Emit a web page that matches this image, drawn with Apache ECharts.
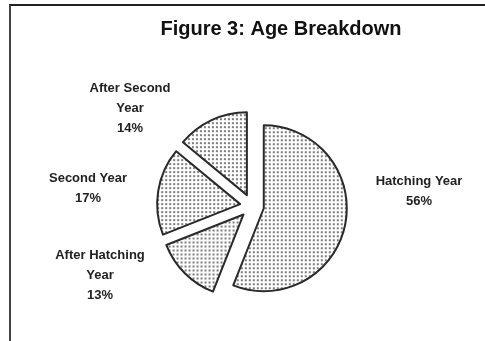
<!DOCTYPE html>
<html>
<head>
<meta charset="utf-8">
<script src="https://cdn.jsdelivr.net/npm/echarts@6/dist/echarts.min.js"></script>
<style>
  html, body { margin: 0; padding: 0; background: #fff; }
  #wrap { position: relative; width: 485px; height: 341px; overflow: hidden; }
  #chart { position: absolute; left: 0; top: 0; width: 485px; height: 341px; }
  #frame { position: absolute; left: 9px; top: 4px; width: 600px; height: 600px;
           border-top: 2px solid #222; border-left: 2px solid #444; pointer-events: none; }
</style>
</head>
<body>
<div id="wrap">
  <div id="chart"></div>
  <div id="frame"></div>
</div>
<script>
// Data
const categories = ['Hatching Year', 'After Hatching\nYear', 'Second Year', 'After Second\nYear'];
const values = [56, 13, 17, 14];
const percentLabels = ['56%', '13%', '17%', '14%'];
const titleText = 'Figure 3: Age Breakdown';

// Label placement (center of each label block)
const labelPos = [[419, 191], [100, 275], [88, 188], [130, 108]];

// Dotted pattern fill
function makePattern() {
  const c = document.createElement('canvas');
  c.width = 4; c.height = 4;
  const ctx = c.getContext('2d');
  ctx.fillStyle = '#ffffff';
  ctx.fillRect(0, 0, 4, 4);
  ctx.fillStyle = '#7e7e7e';
  ctx.fillRect(1, 1, 2, 2);
  return c;
}
const pattern = { image: makePattern(), repeat: 'repeat' };
const pieData = categories.map((name, i) => ({ name: name, value: values[i] }));

const chart = echarts.init(document.getElementById('chart'), null, { renderer: 'canvas' });
chart.setOption({
  backgroundColor: '#ffffff',
  animation: false,
  title: {
    text: titleText,
    left: 276,
    top: 14,
    textAlign: 'center',
    textStyle: { fontFamily: 'Liberation Sans, Arial, sans-serif', fontWeight: 'bold', fontSize: 20, color: '#111' }
  },
  series: [{
    type: 'pie',
    center: [252, 206],
    radius: [0, 83],
    startAngle: 90,
    clockwise: true,
    selectedMode: 'multiple',
    selectedOffset: 12,
    emphasis: { disabled: true },
    itemStyle: { color: pattern, borderColor: '#2a2a2a', borderWidth: 2 },
    select: { itemStyle: { color: pattern, borderColor: '#2a2a2a', borderWidth: 2 } },
    label: { show: false },
    labelLine: { show: false },
    data: pieData.map(d => ({ name: d.name, value: d.value, selected: true }))
  }, {
    type: 'pie',
    center: [252, 206],
    radius: [0, 83],
    startAngle: 90,
    clockwise: true,
    silent: true,
    selectedMode: false,
    avoidLabelOverlap: false,
    emphasis: { disabled: true },
    itemStyle: { color: 'rgba(0,0,0,0)', borderWidth: 0 },
    label: {
      show: true,
      position: 'outside',
      formatter: p => categories[p.dataIndex] + '\n' + percentLabels[p.dataIndex],
      fontFamily: 'Liberation Sans, Arial, sans-serif',
      fontWeight: 'bold',
      fontSize: 13,
      lineHeight: 20,
      color: '#222',
      align: 'center'
    },
    labelLine: { show: false },
    labelLayout: function (params) {
      const p = labelPos[params.dataIndex];
      return { x: p[0], y: p[1], align: 'center', verticalAlign: 'middle' };
    },
    data: pieData
  }]
});
</script>
</body>
</html>
